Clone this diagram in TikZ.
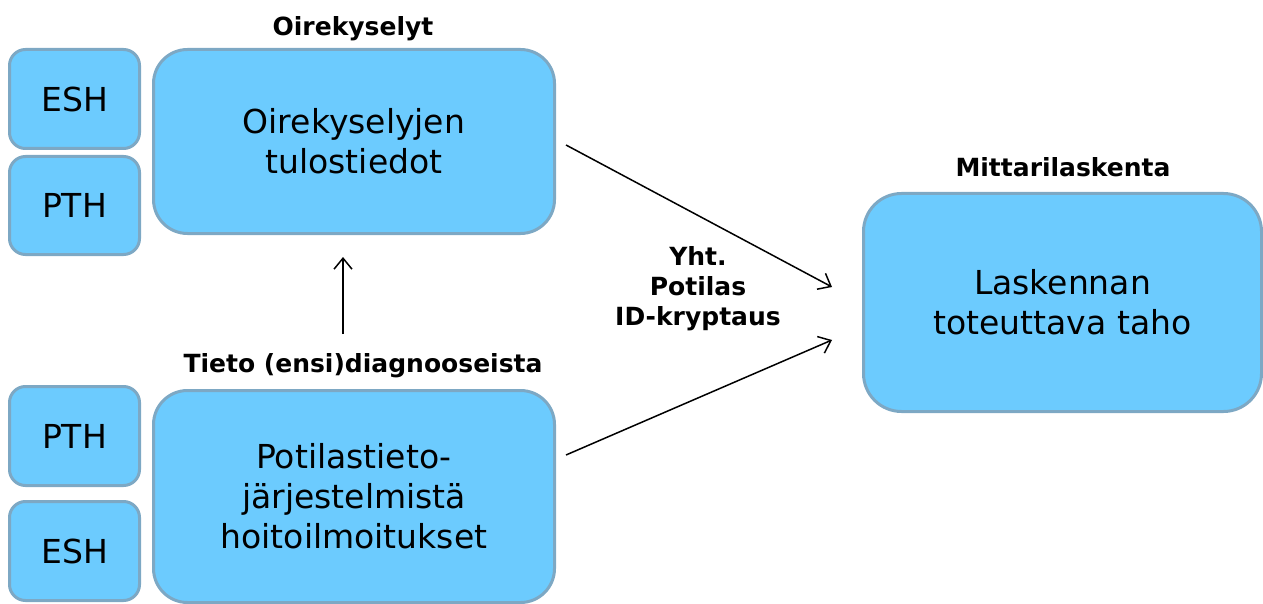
\documentclass[tikz,border=0pt]{standalone}
\usepackage{fontspec}
\setmainfont{DejaVu Sans}
\usetikzlibrary{arrows.meta}
\definecolor{fillc}{HTML}{6CCBFE}
\definecolor{bordc}{HTML}{7DA8C4}
\tikzset{
  box/.style={draw=bordc, fill=fillc, line width=3pt, rounded corners=#1, inner sep=0pt, align=center, font=\fontsize{33}{40}\selectfont},
  lab/.style={font=\bfseries\fontsize{25}{30}\selectfont, align=center, inner sep=0pt},
  arr/.style={-{Straight Barb[length=11pt,width=18pt]}, line width=1.5pt}
}
\begin{document}
\begin{tikzpicture}[x=1pt,y=-1pt]
\useasboundingbox (0,0) rectangle (1263,604);
% left small boxes
\node[box=16pt, minimum width=130pt, minimum height=99pt] (esh1) at (74.5,99) {ESH};
\node[box=16pt, minimum width=130pt, minimum height=98pt] (pth1) at (74.5,205.5) {PTH};
\node[box=16pt, minimum width=130pt, minimum height=99pt] (pth2) at (74.5,436) {PTH};
\node[box=16pt, minimum width=130pt, minimum height=99pt] (esh2) at (74.5,551) {ESH};
% main boxes
\node[box=34pt, minimum width=401pt, minimum height=184pt] (oire) at (354,141.5) {Oirekyselyjen\\tulostiedot};
\node[box=34pt, minimum width=401pt, minimum height=212pt] (pot) at (354,496.5) {Potilastieto-\\järjestelmistä\\hoitoilmoitukset};
\node[box=38pt, minimum width=398pt, minimum height=218pt] (calc) at (1062.5,302.5) {Laskennan\\toteuttava taho};
% labels
\node[lab, anchor=base] (oiret) at (353,36) {Oirekyselyt};
\node[lab, anchor=base] (tieto) at (363,372) {Tieto (ensi)diagnooseista};
\node[lab, anchor=base] (mitt) at (1063,177) {Mittarilaskenta};
\node[lab] (yht) at (698,289) {Yht.\\Potilas\\ID-kryptaus};
% connector ends
\coordinate (upS) at (343,334);
\coordinate (upE) at (343,257);
\coordinate (a1S) at (566,145);
\coordinate (a1E) at (832,287);
\coordinate (a2S) at (566,455);
\coordinate (a2E) at (832,340);
\draw[arr] (upS) -- (upE);
\draw[arr] (a1S) -- (a1E);
\draw[arr] (a2S) -- (a2E);
\end{tikzpicture}
\end{document}
